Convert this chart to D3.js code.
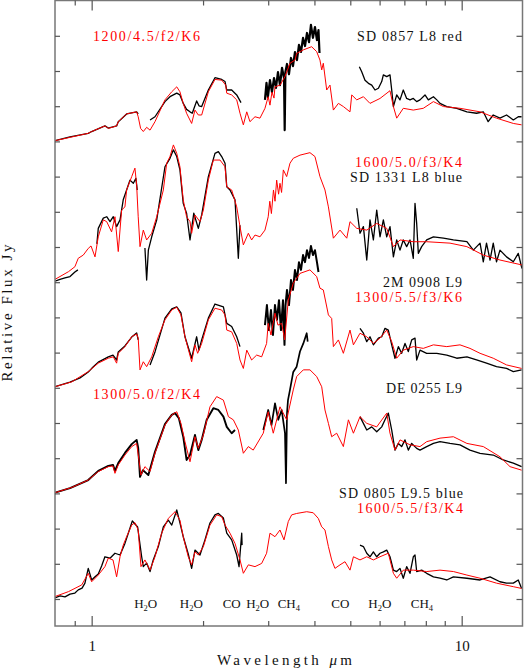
<!DOCTYPE html>
<html><head><meta charset="utf-8">
<script src="https://cdn.jsdelivr.net/npm/d3@7"></script>
<style>
body{margin:0;background:#fff}
svg{display:block}
text{font-family:"Liberation Serif","DejaVu Serif",serif}
</style>
</head><body>
<svg id="c" width="524" height="671"></svg>
<script>
// ---------------- DATA ----------------
const xDomain = [0.796, 14.6];          // wavelength, micron (log axis)
const yDomain = [-0.767, 17.017];       // relative flux (offset units)
const majorTicks = [1, 10];
const majorTickLabels = ["1", "10"];
const minorTicks = [0.9, 2, 3, 4, 5, 6, 7, 8, 9];
const yTicks = d3.range(0, 17);

const offsets = [13, 9, 6, 3, 0];
const starNames = ["SD 0857 L8 red", "SD 1331 L8 blue", "2M 0908 L9", "DE 0255 L9", "SD 0805 L9.5 blue"];
const modelNames = ["1200/4.5/f2/K6", "1600/5.0/f3/K4", "1300/5.5/f3/K6", "1300/5.0/f2/K4", "1600/5.5/f3/K4"];

const featureNames = [["H","2","O"],["H","2","O"],["CO","",""],["H","2","O"],["CH","4",""],["CO","",""],["H","2","O"],["CH","4",""]];
const featureWaves = [1.40, 1.86, 2.39, 2.81, 3.41, 4.70, 6.01, 7.81];

// model spectra (red) : [wavelength, relative flux]
const model1 = [[0.796,0.02],[0.979,0.23],[1.000,0.28],[1.086,0.44],[1.109,0.37],[1.168,0.44],[1.180,0.56],[1.243,0.78],[1.323,0.84],[1.336,0.70],[1.356,0.37],[1.379,0.28],[1.408,0.40],[1.438,0.32],[1.483,0.56],[1.578,1.18],[1.646,1.41],[1.698,1.55],[1.732,1.41],[1.768,1.08],[1.805,0.80],[1.863,0.51],[1.902,0.89],[1.942,0.75],[1.983,0.75],[2.067,1.41],[2.154,1.76],[2.246,1.74],[2.303,1.60],[2.318,1.37],[2.390,1.32],[2.466,1.18],[2.517,0.80],[2.570,0.47],[2.625,0.84],[2.678,0.56],[2.763,0.70],[2.850,0.66],[2.940,0.94],[3.000,1.27],[3.033,1.03],[3.071,1.40],[3.110,1.23],[3.129,1.55],[3.230,1.60],[3.330,1.84],[3.435,2.22],[3.544,2.31],[3.581,2.50],[3.733,2.60],[3.931,2.69],[4.056,2.55],[4.140,2.31],[4.185,2.03],[4.227,2.22],[4.317,1.46],[4.406,1.60],[4.500,0.89],[4.643,1.08],[4.789,0.99],[4.991,0.84],[5.045,1.32],[5.205,1.18],[5.425,1.27],[5.652,1.08],[6.015,1.22],[6.401,1.44],[6.538,0.99],[6.674,0.66],[6.953,0.94],[7.400,0.89],[7.874,0.94],[8.387,1.13],[8.925,0.99],[9.895,0.94],[11.21,0.84],[12.42,0.66],[13.79,0.51],[14.52,0.47]];

const model2 = [[0.796,0.08],[0.866,0.30],[0.901,0.44],[0.920,0.68],[0.949,0.77],[0.979,0.96],[0.996,1.03],[1.021,0.72],[1.042,1.29],[1.075,1.77],[1.098,1.72],[1.132,1.43],[1.156,1.86],[1.180,0.87],[1.205,2.05],[1.230,2.14],[1.243,2.62],[1.283,3.00],[1.309,3.24],[1.323,2.76],[1.336,1.86],[1.351,1.01],[1.379,1.48],[1.408,1.20],[1.453,1.39],[1.499,1.86],[1.562,2.62],[1.595,3.38],[1.628,3.57],[1.663,3.90],[1.698,3.66],[1.732,3.28],[1.768,2.34],[1.805,1.86],[1.844,1.72],[1.863,1.39],[1.902,1.91],[1.962,1.72],[2.004,2.05],[2.067,2.90],[2.132,3.47],[2.223,3.47],[2.293,3.28],[2.318,2.71],[2.390,2.62],[2.466,2.14],[2.517,1.58],[2.570,1.06],[2.651,1.39],[2.706,1.20],[2.763,1.34],[2.850,1.29],[2.940,1.48],[3.000,1.86],[3.030,2.30],[3.060,1.95],[3.100,2.62],[3.130,2.30],[3.162,2.90],[3.200,2.50],[3.228,2.81],[3.260,2.55],[3.296,3.19],[3.365,3.00],[3.435,3.38],[3.506,3.52],[3.656,3.61],[3.890,3.68],[4.013,3.57],[4.140,3.00],[4.271,2.62],[4.363,2.14],[4.500,1.25],[4.690,1.48],[4.891,1.25],[4.991,1.72],[5.205,1.53],[5.539,1.48],[5.894,1.67],[6.272,1.53],[6.538,1.01],[6.812,1.20],[7.400,1.15],[8.043,1.15],[9.299,1.11],[10.33,1.01],[11.44,0.77],[12.69,0.63],[14.55,0.49]];

const model3 = [[0.796,0.03],[0.884,0.17],[0.979,0.46],[1.042,0.70],[1.109,0.84],[1.144,0.88],[1.168,0.70],[1.180,0.98],[1.230,1.17],[1.283,1.45],[1.323,1.53],[1.336,1.41],[1.351,0.51],[1.379,0.74],[1.408,0.60],[1.453,0.88],[1.514,1.45],[1.578,1.93],[1.646,2.21],[1.698,2.29],[1.743,2.07],[1.787,1.45],[1.863,0.74],[1.902,1.22],[1.934,0.98],[1.983,1.26],[2.067,1.93],[2.154,2.26],[2.246,2.21],[2.293,2.07],[2.318,1.64],[2.390,1.59],[2.466,1.26],[2.517,0.79],[2.570,0.55],[2.625,1.07],[2.706,0.79],[2.792,0.93],[2.880,0.88],[2.970,1.26],[3.000,1.83],[3.052,1.50],[3.129,2.12],[3.188,1.78],[3.262,1.83],[3.324,1.36],[3.399,2.49],[3.506,2.97],[3.656,3.25],[3.890,3.35],[4.056,3.16],[4.140,2.83],[4.227,2.78],[4.363,2.07],[4.453,1.97],[4.500,1.17],[4.643,1.36],[4.789,0.98],[4.991,1.64],[5.098,1.22],[5.311,1.55],[5.539,1.45],[5.772,1.26],[6.015,1.41],[6.272,1.64],[6.470,1.31],[6.674,0.84],[6.953,1.07],[7.400,1.17],[7.874,1.12],[8.387,1.22],[9.113,1.17],[9.895,1.22],[10.53,1.12],[11.21,0.98],[12.17,0.84],[13.22,0.65],[14.52,0.55]];

const model4 = [[0.796,0.02],[0.884,0.17],[0.979,0.38],[1.042,0.62],[1.109,0.76],[1.142,0.78],[1.156,0.57],[1.180,0.81],[1.230,1.09],[1.283,1.33],[1.323,1.42],[1.342,0.95],[1.359,0.52],[1.393,0.76],[1.438,0.62],[1.483,1.14],[1.578,1.94],[1.646,2.23],[1.698,2.32],[1.743,1.99],[1.787,1.47],[1.844,0.90],[1.902,1.61],[1.942,1.28],[2.004,1.66],[2.088,2.46],[2.177,2.75],[2.270,2.65],[2.342,2.18],[2.415,2.09],[2.491,1.80],[2.570,1.14],[2.651,1.33],[2.733,1.23],[2.909,1.71],[3.000,2.32],[3.096,1.71],[3.228,2.46],[3.365,2.09],[3.506,2.94],[3.581,3.32],[3.733,3.51],[3.890,3.51],[4.056,3.32],[4.185,3.03],[4.271,2.37],[4.363,1.99],[4.453,1.61],[4.594,1.71],[4.789,1.33],[4.941,2.09],[5.098,1.71],[5.311,2.18],[5.539,1.99],[5.894,1.89],[6.272,2.28],[6.401,1.71],[6.603,1.23],[6.812,1.52],[7.250,1.38],[7.715,1.33],[8.043,1.47],[8.738,1.57],[9.497,1.61],[10.33,1.42],[11.44,1.33],[12.69,1.04],[13.51,0.76],[14.52,0.66]];

const model5 = [[0.796,0.07],[0.866,0.21],[0.940,0.40],[0.979,0.73],[1.000,0.49],[1.042,0.68],[1.086,0.92],[1.109,1.16],[1.142,1.11],[1.168,0.63],[1.193,1.20],[1.217,1.53],[1.243,1.77],[1.283,2.10],[1.309,2.17],[1.336,1.96],[1.359,0.92],[1.393,1.11],[1.438,0.82],[1.483,1.20],[1.546,1.87],[1.611,2.29],[1.680,2.48],[1.732,2.24],[1.768,1.77],[1.824,1.20],[1.863,0.97],[1.902,1.34],[1.942,1.25],[2.004,1.49],[2.088,2.10],[2.177,2.39],[2.246,2.34],[2.293,2.10],[2.365,1.87],[2.440,1.58],[2.517,1.11],[2.570,0.73],[2.651,0.97],[2.763,0.92],[2.880,1.01],[2.970,1.30],[3.033,1.87],[3.129,1.77],[3.228,1.96],[3.310,1.68],[3.399,2.20],[3.471,2.39],[3.581,2.43],[3.812,2.48],[3.970,2.45],[4.097,2.29],[4.185,2.05],[4.271,1.96],[4.363,1.49],[4.453,1.11],[4.545,0.87],[4.690,0.97],[4.838,1.06],[4.991,0.82],[5.098,1.20],[5.311,1.11],[5.539,1.20],[5.772,1.11],[6.015,1.20],[6.335,1.30],[6.538,0.73],[6.674,0.59],[6.953,0.82],[7.400,0.82],[8.043,0.78],[8.738,0.82],[9.497,0.78],[10.33,0.68],[11.21,0.59],[12.42,0.45],[13.79,0.35],[14.52,0.30]];

// observed spectra (black), each a list of segments
const obs1 = [
 [[0.796,0.02],[0.874,0.13],[0.979,0.23],[1.000,0.28],[1.086,0.44],[1.109,0.38],[1.168,0.44],[1.180,0.56],[1.243,0.78],[1.323,0.84],[1.336,0.78]],
 [[1.438,0.61],[1.483,0.70],[1.578,1.13],[1.628,1.27],[1.698,1.37],[1.732,1.32],[1.768,1.08],[1.805,0.91],[1.844,0.84],[1.870,0.80],[1.922,1.15],[1.950,1.01],[1.983,0.99],[2.067,1.46],[2.154,1.81],[2.246,1.76],[2.293,1.70],[2.318,1.46],[2.390,1.46],[2.466,1.32],[2.533,1.10]],
 [[2.940,1.18],[2.968,1.66],[2.994,1.26],[3.033,1.74],[3.071,1.40],[3.110,1.80],[3.148,1.52],[3.188,1.97],[3.228,1.60],[3.269,2.09],[3.310,1.80],[3.324,0.32],[3.339,1.97],[3.372,2.20],[3.414,1.91],[3.457,2.37],[3.500,2.14],[3.544,2.54],[3.588,2.31],[3.633,2.74],[3.679,2.54],[3.726,2.94],[3.772,2.71],[3.819,3.08],[3.867,2.82],[3.914,3.31],[3.963,2.94],[4.013,3.25],[4.063,2.88],[4.102,3.16],[4.128,2.51]],
 [[5.290,2.12],[5.368,1.98],[5.479,1.74],[5.597,1.65],[5.713,1.60],[5.831,1.46],[5.956,1.51],[6.080,1.70],[6.142,1.89],[6.272,1.84],[6.401,1.89],[6.470,1.46],[6.538,0.99],[6.674,1.32],[6.812,1.18],[6.953,1.46],[7.100,1.22],[7.250,1.18],[7.400,1.22],[7.557,1.13],[7.715,1.18],[7.959,1.32],[8.126,1.18],[8.387,1.27],[8.566,1.18],[8.738,1.08],[9.113,0.99],[9.697,0.94],[10.33,0.84],[10.97,0.80],[11.44,0.84],[11.79,0.56],[12.17,0.75],[12.69,0.66],[13.22,0.75],[13.79,0.61],[14.22,0.70],[14.52,0.70]]
];

const obs2 = [
 [[0.796,0.03],[0.821,0.08],[0.847,0.12],[0.874,0.16],[0.901,0.29],[0.918,0.35]],
 [[1.033,1.09],[1.042,1.53],[1.075,1.82],[1.098,1.86],[1.121,1.72],[1.144,1.86],[1.168,1.58],[1.193,1.77],[1.217,2.34],[1.243,2.62],[1.269,2.90],[1.296,2.81],[1.317,2.95],[1.328,2.62]],
 [[1.393,0.97],[1.408,0.06],[1.423,0.91],[1.453,1.29],[1.499,1.77],[1.578,3.28],[1.628,3.52],[1.663,3.76],[1.698,3.57],[1.732,3.19],[1.768,2.24],[1.805,1.96],[1.844,1.20],[1.888,1.96],[1.942,1.53],[1.983,1.91],[2.067,3.00],[2.154,3.66],[2.200,3.71],[2.246,3.57],[2.293,3.38],[2.318,2.71],[2.365,2.62],[2.440,2.34],[2.491,0.68],[2.517,1.62]],
 [[5.205,2.10],[5.311,1.39],[5.425,1.58],[5.539,0.63],[5.652,1.77],[5.772,1.20],[5.894,2.05],[6.015,1.29],[6.142,1.77],[6.272,1.29],[6.401,1.58],[6.538,0.72],[6.674,1.20],[6.812,0.91],[6.953,1.20],[7.100,1.01],[7.250,1.20],[7.400,0.68],[7.479,2.24],[7.557,1.67],[7.635,0.82],[7.795,1.01],[8.043,1.20],[8.387,1.29],[8.925,1.25],[9.497,1.20],[10.33,1.15],[10.75,0.91],[11.21,1.11],[11.44,0.58],[11.67,1.11],[11.93,0.63],[12.17,1.11],[12.42,0.58],[12.69,0.91],[13.22,0.72],[13.79,0.58],[14.22,0.82],[14.55,0.39]]
];

const obs3 = [
 [[0.796,0.03],[0.874,0.16],[0.930,0.28],[0.979,0.45],[1.002,0.56],[1.042,0.73],[1.109,0.88],[1.142,0.93],[1.168,0.79],[1.180,1.02],[1.230,1.19],[1.283,1.44],[1.323,1.56],[1.336,1.36]],
 [[1.438,0.65],[1.483,1.02],[1.578,1.98],[1.646,2.24],[1.698,2.30],[1.743,2.13],[1.787,1.45],[1.863,0.84],[1.922,1.45],[1.950,1.07],[1.983,1.36],[2.067,1.98],[2.154,2.38],[2.270,2.30],[2.318,1.83],[2.390,1.74],[2.466,1.45],[2.517,1.17]],
 [[2.940,1.78],[2.976,2.35],[3.013,1.64],[3.052,2.21],[3.090,1.50],[3.129,2.35],[3.168,1.93],[3.208,2.49],[3.248,1.64],[3.289,2.49],[3.320,1.22],[3.341,2.35],[3.372,2.78],[3.414,2.35],[3.457,3.06],[3.500,2.78],[3.544,3.35],[3.588,3.06],[3.633,3.57],[3.679,3.35],[3.726,3.77],[3.772,3.57],[3.819,3.91],[3.867,3.69],[3.914,4.03],[3.963,3.77],[4.013,3.91],[4.063,3.57],[4.102,3.29]],
 [[5.311,1.69],[5.425,1.55],[5.539,1.31],[5.652,1.45],[5.772,1.22],[5.956,1.41],[6.080,1.45],[6.205,1.69],[6.335,1.64],[6.470,1.22],[6.603,0.84],[6.743,1.17],[6.882,0.98],[7.028,1.26],[7.174,1.03],[7.327,1.36],[7.479,1.41],[7.557,0.79],[7.715,1.07],[8.043,0.98],[8.566,0.98],[9.113,0.93],[9.697,0.84],[10.33,0.88],[10.97,0.79],[11.67,0.70],[12.42,0.60],[13.22,0.55],[13.79,0.46],[14.52,0.51]]
];

const obs4 = [
 [[0.796,0.02],[0.874,0.15],[0.979,0.38],[1.042,0.64],[1.109,0.78],[1.142,0.81],[1.156,0.64],[1.180,0.86],[1.230,1.15],[1.283,1.40],[1.323,1.52],[1.336,1.29],[1.351,0.47],[1.376,0.66],[1.423,0.52],[1.483,1.18],[1.578,1.97],[1.646,2.23],[1.680,2.28],[1.720,2.14],[1.768,1.61],[1.805,0.95],[1.844,1.09],[1.902,1.66],[1.942,1.23],[1.983,1.52],[2.046,2.09],[2.132,2.42],[2.200,2.37],[2.270,2.18],[2.318,1.89],[2.390,1.71],[2.440,1.80]],
 [[2.909,1.80],[3.000,2.37],[3.062,1.94],[3.129,2.56],[3.194,2.09],[3.262,2.37],[3.330,1.71],[3.351,0.29],[3.372,2.28],[3.393,2.65],[3.435,2.94],[3.506,3.45],[3.581,3.60],[3.656,4.03],[3.733,4.26],[3.812,4.55],[3.836,4.31]],
 [[5.311,2.18],[5.425,1.99],[5.539,1.80],[5.713,1.89],[5.894,1.75],[6.080,1.89],[6.205,2.09],[6.335,2.28],[6.470,1.80],[6.603,1.23],[6.743,1.42],[6.882,1.33],[7.028,1.52],[7.174,1.23],[7.327,1.42],[7.557,1.28],[7.715,1.23],[8.043,1.33],[8.387,1.42],[8.738,1.47],[9.299,1.42],[9.895,1.38],[10.53,1.23],[11.21,1.14],[12.17,1.09],[12.95,0.95],[13.79,0.86],[14.52,0.76]]
];

const obs5 = [
 [[0.796,0.03],[0.821,0.09],[0.847,0.06],[0.874,0.14],[0.901,0.17],[0.920,0.26],[0.942,0.31],[0.959,0.45],[0.979,0.87],[1.000,0.54],[1.021,0.63],[1.042,0.71],[1.064,0.94],[1.086,1.20],[1.121,1.16],[1.156,1.30],[1.193,1.25],[1.230,1.58],[1.269,2.01],[1.288,2.22],[1.309,2.13],[1.331,2.05],[1.365,1.20],[1.379,0.92],[1.408,1.02],[1.438,0.78],[1.467,1.11],[1.514,1.49],[1.562,2.05],[1.611,2.24],[1.646,2.10],[1.698,2.53],[1.732,2.16],[1.768,1.77],[1.824,1.28],[1.863,0.87],[1.902,1.39],[1.962,1.25],[2.024,1.68],[2.088,2.16],[2.154,2.39],[2.200,2.43],[2.270,2.30],[2.318,1.87],[2.390,1.68],[2.466,1.25],[2.502,0.92],[2.544,1.87],[2.550,1.53]],
 [[5.311,1.53],[5.425,1.49],[5.539,1.30],[5.652,1.20],[5.772,1.34],[5.894,1.20],[6.015,1.30],[6.142,1.34],[6.272,1.39],[6.401,1.20],[6.538,0.82],[6.674,0.78],[6.812,0.87],[6.953,0.59],[7.100,0.92],[7.250,0.73],[7.400,1.20],[7.479,1.25],[7.557,0.78],[7.795,0.82],[8.043,0.73],[8.387,0.63],[8.738,0.59],[9.113,0.54],[9.497,0.63],[10.33,0.59],[11.21,0.54],[11.93,0.63],[12.69,0.49],[13.22,0.45],[13.79,0.45],[14.22,0.54],[14.52,0.30]]
];

const models = [model1, model2, model3, model4, model5];
const observed = [obs1, obs2, obs3, obs4, obs5];

// ---------------- DRAW ----------------
const L = 55, R = 522.5, T = 0.5, B = 626;
const svg = d3.select("#c");
const x = d3.scaleLog().domain(xDomain).range([L, R]);
const y = d3.scaleLinear().domain(yDomain).range([B, 0]);

svg.append("defs").append("clipPath").attr("id", "clip")
  .append("rect").attr("x", L).attr("y", T).attr("width", R - L).attr("height", B - T);

const plot = svg.append("g").attr("clip-path", "url(#clip)");
const lineFor = off => d3.line().x(d => x(d[0])).y(d => y(d[1] + off));

// noisy (dense) observed segments are drawn a little heavier
const heavy = {"0-2": 2.2, "2-2": 2.0, "3-0": 1.9, "3-1": 1.7};
observed.forEach((segs, i) => {
  segs.forEach((seg, j) => {
    plot.append("path").attr("d", lineFor(offsets[i])(seg))
      .attr("fill", "none").attr("stroke", "#000")
      .attr("stroke-width", heavy[i + "-" + j] || 1.3)
      .attr("stroke-linejoin", "round");
  });
});
models.forEach((m, i) => {
  plot.append("path").attr("d", lineFor(offsets[i])(m))
    .attr("fill", "none").attr("stroke", "#ff0000").attr("stroke-width", 1)
    .attr("stroke-linejoin", "round");
});

// frame
svg.append("rect").attr("x", L).attr("y", T).attr("width", R - L).attr("height", B - T)
  .attr("fill", "none").attr("stroke", "#777").attr("stroke-width", 1.5);

function styleAxis(g) {
  g.select(".domain").remove();
  g.selectAll(".tick line").attr("stroke", "#555").attr("stroke-width", 1.2);
}
// bottom axis
svg.append("g").attr("transform", `translate(0,${B})`)
  .call(d3.axisBottom(x).tickValues(majorTicks).tickSize(-10).tickPadding(14)
    .tickFormat((d, i) => majorTickLabels[i]))
  .call(styleAxis)
  .call(g => g.selectAll("text").attr("font-family", "Liberation Serif, serif")
    .attr("font-size", 15).attr("fill", "#111"));
svg.append("g").attr("transform", `translate(0,${B})`)
  .call(d3.axisBottom(x).tickValues(minorTicks).tickSize(-5).tickFormat(""))
  .call(styleAxis);
// top axis
svg.append("g").attr("transform", `translate(0,${T})`)
  .call(d3.axisTop(x).tickValues(majorTicks).tickSize(-10).tickFormat(""))
  .call(styleAxis);
svg.append("g").attr("transform", `translate(0,${T})`)
  .call(d3.axisTop(x).tickValues(minorTicks).tickSize(-5).tickFormat(""))
  .call(styleAxis);
// left / right axes
svg.append("g").attr("transform", `translate(${L},0)`)
  .call(d3.axisLeft(y).tickValues(yTicks).tickSize(-5).tickFormat(""))
  .call(styleAxis);
svg.append("g").attr("transform", `translate(${R},0)`)
  .call(d3.axisRight(y).tickValues(yTicks).tickSize(-6).tickFormat(""))
  .call(styleAxis);

// axis titles
svg.append("text").attr("x", 284.5).attr("y", 665).attr("text-anchor", "middle")
  .attr("font-size", 15).attr("fill", "#111").attr("textLength", 135).attr("lengthAdjust", "spacing")
  .call(t => { t.append("tspan").text("Wavelength "); t.append("tspan").attr("font-style", "italic").text("\u03bc"); t.append("tspan").text("m"); });
svg.append("text").attr("transform", "translate(12,313) rotate(-90)").attr("text-anchor", "middle")
  .attr("font-size", 15).attr("fill", "#111").attr("textLength", 137).attr("lengthAdjust", "spacing")
  .text("Relative Flux Jy");

// spectrum labels
const starLabelPos = [[462, 40.5, 105], [462, 181.5, 112], [462, 286.5, 79], [462, 392.5, 76], [463, 498, 124]];
const modelLabelPos = [[93, 40.5, 107, "start"], [462, 166.5, 107, "end"], [462, 301.5, 107, "end"], [93, 399, 107, "start"], [463, 512.5, 106, "end"]];
starNames.forEach((s, i) => {
  const [px, py, w] = starLabelPos[i];
  svg.append("text").attr("x", px).attr("y", py).attr("text-anchor", "end")
    .attr("font-size", 14).attr("fill", "#111").attr("textLength", w).attr("lengthAdjust", "spacing").text(s);
});
modelNames.forEach((s, i) => {
  const [px, py, w, anc] = modelLabelPos[i];
  svg.append("text").attr("x", px).attr("y", py).attr("text-anchor", anc)
    .attr("font-size", 14).attr("fill", "#ff0000").attr("textLength", w).attr("lengthAdjust", "spacing").text(s);
});

// molecular feature labels
featureNames.forEach((f, i) => {
  const t = svg.append("text").attr("x", x(featureWaves[i])).attr("y", 608)
    .attr("text-anchor", "middle").attr("font-size", 13).attr("fill", "#111");
  t.append("tspan").text(f[0]);
  if (f[1]) t.append("tspan").attr("font-size", 8.5).attr("dy", 3).text(f[1]);
  if (f[2]) t.append("tspan").attr("dy", -3).text(f[2]);
});
</script>
</body></html>
